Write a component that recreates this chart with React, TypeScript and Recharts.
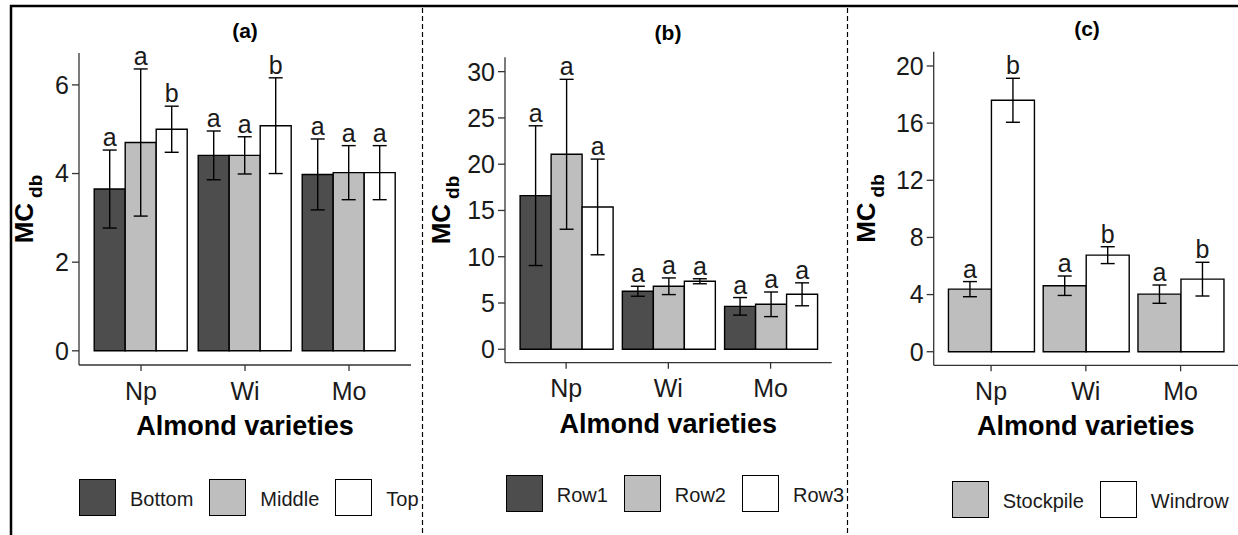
import React from 'react';
import { BarChart, Bar, XAxis, YAxis, ErrorBar, LabelList, Legend } from 'recharts';

const varieties = ['Np', 'Wi', 'Mo'];

// (a) position in the pile
const bottomMean = [3.65, 4.41, 3.98];
const bottomErr = [0.88, 0.55, 0.8];
const bottomLetters = ['a', 'a', 'a'];
const middleMean = [4.7, 4.41, 4.02];
const middleErr = [1.66, 0.42, 0.61];
const middleLetters = ['a', 'a', 'a'];
const topMean = [5.0, 5.08, 4.02];
const topErr = [0.52, 1.08, 0.61];
const topLetters = ['b', 'b', 'a'];

// (b) rows
const row1Mean = [16.6, 6.27, 4.64];
const row1Err = [7.55, 0.54, 0.95];
const row2Mean = [21.07, 6.81, 4.86];
const row2Err = [8.1, 0.9, 1.33];
const row3Mean = [15.38, 7.35, 5.94];
const row3Err = [5.17, 0.27, 1.24];
const rowLetters = ['a', 'a', 'a'];

// (c) storage method
const stockpileMean = [4.38, 4.62, 4.03];
const stockpileErr = [0.53, 0.68, 0.64];
const stockpileLetters = ['a', 'a', 'a'];
const windrowMean = [17.6, 6.76, 5.08];
const windrowErr = [1.54, 0.59, 1.18];
const windrowLetters = ['b', 'b', 'b'];

const ticksA = [0, 2, 4, 6];
const ticksB = [0, 5, 10, 15, 20, 25, 30];
const ticksC = [0, 4, 8, 12, 16, 20];

const DARK = '#4d4d4d';
const LIGHT = '#bebebe';
const WHITE = '#ffffff';
const FONT = '"Liberation Sans", Arial, sans-serif';
const AXIS = '#333333';

type Series = { key: string; name: string; fill: string; mean: number[]; err: number[]; letters: string[] };

const panels = [
  {
    title: '(a)', titleX: 245, titleY: 38,
    left: 0, width: 420, top: 53, right: 9, yWidth: 79, xHeight: 170,
    domain: [-0.32, 6.72], ticks: ticksA, yLabelX: 33, legendLeft: 79, legendTop: 479,
    series: [
      { key: 'bottom', name: 'Bottom', fill: DARK, mean: bottomMean, err: bottomErr, letters: bottomLetters },
      { key: 'middle', name: 'Middle', fill: LIGHT, mean: middleMean, err: middleErr, letters: middleLetters },
      { key: 'top', name: 'Top', fill: WHITE, mean: topMean, err: topErr, letters: topLetters },
    ] as Series[],
  },
  {
    title: '(b)', titleX: 668, titleY: 40,
    left: 422, width: 416, top: 57.3, right: 6.3, yWidth: 83, xHeight: 172.3,
    domain: [-1.45, 31.55], ticks: ticksB, yLabelX: 28, legendLeft: 83.7, legendTop: 475,
    series: [
      { key: 'row1', name: 'Row1', fill: DARK, mean: row1Mean, err: row1Err, letters: rowLetters },
      { key: 'row2', name: 'Row2', fill: LIGHT, mean: row2Mean, err: row2Err, letters: rowLetters },
      { key: 'row3', name: 'Row3', fill: WHITE, mean: row3Mean, err: row3Err, letters: rowLetters },
    ] as Series[],
  },
  {
    title: '(c)', titleX: 1087, titleY: 36,
    left: 847, width: 391, top: 51.7, right: 0, yWidth: 86.7, xHeight: 169.7,
    domain: [-0.95, 21], ticks: ticksC, yLabelX: 28, legendLeft: 104.7, legendTop: 480.7,
    series: [
      { key: 'stockpile', name: 'Stockpile', fill: LIGHT, mean: stockpileMean, err: stockpileErr, letters: stockpileLetters },
      { key: 'windrow', name: 'Windrow', fill: WHITE, mean: windrowMean, err: windrowErr, letters: windrowLetters },
    ] as Series[],
  },
];

const letterContent = (s: Series) => (props: any) => {
  const vb = props.viewBox || {};
  const x = Number(props.x ?? vb.x);
  const y = Number(props.y ?? vb.y);
  const w = Number(props.width ?? vb.width);
  const h = Number(props.height ?? vb.height);
  const i = props.index ?? 0;
  const v = s.mean[i];
  const pxPerUnit = v ? h / v : 0;
  const errTop = y - s.err[i] * pxPerUnit;
  return (
    <text x={x + w / 2} y={errTop - 4} textAnchor="middle" fontSize={25} fontFamily={FONT} fill="#1a1a1a">
      {s.letters[i]}
    </text>
  );
};

const xTitle = (props: any) => {
  const vb = props.viewBox;
  return (
    <text x={vb.x + vb.width / 2} y={vb.y + 70} textAnchor="middle" fontSize={27} fontWeight="bold" fontFamily={FONT} fill="#000">
      Almond varieties
    </text>
  );
};

const yTitle = (lx: number) => (props: any) => {
  const vb = props.viewBox;
  const cy = vb.y + vb.height / 2;
  return (
    <text x={lx} y={cy} transform={`rotate(-90 ${lx} ${cy})`} textAnchor="middle" fontSize={26} fontWeight="bold" fontFamily={FONT} fill="#000">
      MC
      <tspan dx={5} dy={9} fontSize={19}>db</tspan>
    </text>
  );
};

const LegendRow = ({ series }: { series: Series[] }) => (
  <div style={{ display: 'flex', alignItems: 'center', whiteSpace: 'nowrap', fontFamily: FONT, fontSize: 20, color: '#1a1a1a' }}>
    {series.map((s) => (
      <div key={s.key} style={{ display: 'flex', alignItems: 'center' }}>
        <div style={{ width: 37, height: 37, boxSizing: 'border-box', border: '1.3px solid #000', background: s.fill }} />
        <span style={{ marginLeft: 14, marginRight: 16, position: 'relative', top: 2 }}>{s.name}</span>
      </div>
    ))}
  </div>
);

const Panel = ({ cfg }: { cfg: (typeof panels)[number] }) => {
  const data = varieties.map((v, i) => {
    const row: Record<string, any> = { variety: v };
    cfg.series.forEach((s) => {
      row[s.key] = s.mean[i];
      row[s.key + 'Err'] = s.err[i];
    });
    return row;
  });

  return (
    <div style={{ position: 'absolute', left: cfg.left, top: 0 }}>
      <BarChart
        width={cfg.width}
        height={535}
        data={data}
        margin={{ top: cfg.top, right: cfg.right, left: 0, bottom: 0 }}
        barCategoryGap="5%"
        barGap={0}
      >
        <XAxis
          dataKey="variety"
          height={cfg.xHeight}
          padding={{ left: 10, right: 10 }}
          tickSize={6}
          tickMargin={11}
          tick={{ fontSize: 25, fill: '#1a1a1a', fontFamily: FONT }}
          axisLine={{ stroke: AXIS, strokeWidth: 1.3 }}
          tickLine={{ stroke: AXIS, strokeWidth: 1.3 }}
          label={{ content: xTitle }}
        />
        <YAxis
          type="number"
          width={cfg.yWidth}
          domain={cfg.domain}
          ticks={cfg.ticks}
          allowDataOverflow
          interval={0}
          tickSize={7}
          tickMargin={3}
          tick={{ fontSize: 25, fill: '#1a1a1a', fontFamily: FONT }}
          axisLine={{ stroke: AXIS, strokeWidth: 1.3 }}
          tickLine={{ stroke: AXIS, strokeWidth: 1.3 }}
          label={{ content: yTitle(cfg.yLabelX) }}
        />
        {cfg.series.map((s) => (
          <Bar key={s.key} dataKey={s.key} name={s.name} fill={s.fill} stroke="#000" strokeWidth={1.4} isAnimationActive={false}>
            <ErrorBar dataKey={s.key + 'Err'} width={7} stroke="#000" strokeWidth={1.4} direction="y" />
            <LabelList dataKey={s.key} content={letterContent(s)} />
          </Bar>
        ))}
        <Legend
          layout="horizontal"
          verticalAlign="middle"
          align="center"
          wrapperStyle={{ left: cfg.legendLeft, top: cfg.legendTop, width: 'auto' }}
          content={() => <LegendRow series={cfg.series} />}
        />
      </BarChart>
    </div>
  );
};

export default function App() {
  return (
    <div style={{ position: 'relative', width: 1238, height: 535, background: '#fff', overflow: 'hidden', fontFamily: FONT }}>
      <style>{'body{margin:0}'}</style>
      {panels.map((p) => (
        <Panel key={p.title} cfg={p} />
      ))}
      <svg width={1238} height={535} style={{ position: 'absolute', left: 0, top: 0, pointerEvents: 'none' }}>
        <line x1={10} y1={6} x2={1238} y2={6} stroke="#000" strokeWidth={2.5} />
        <line x1={11} y1={5} x2={11} y2={535} stroke="#000" strokeWidth={2.5} />
        <line x1={422.5} y1={8} x2={422.5} y2={535} stroke="#000" strokeWidth={1.2} strokeDasharray="5 3" />
        <line x1={847.5} y1={8} x2={847.5} y2={535} stroke="#000" strokeWidth={1.2} strokeDasharray="5 3" />
        {panels.map((p) => (
          <text key={p.title} x={p.titleX} y={p.titleY} textAnchor="middle" fontSize={21} fontWeight="bold" fontFamily={FONT} fill="#000">
            {p.title}
          </text>
        ))}
      </svg>
    </div>
  );
}
